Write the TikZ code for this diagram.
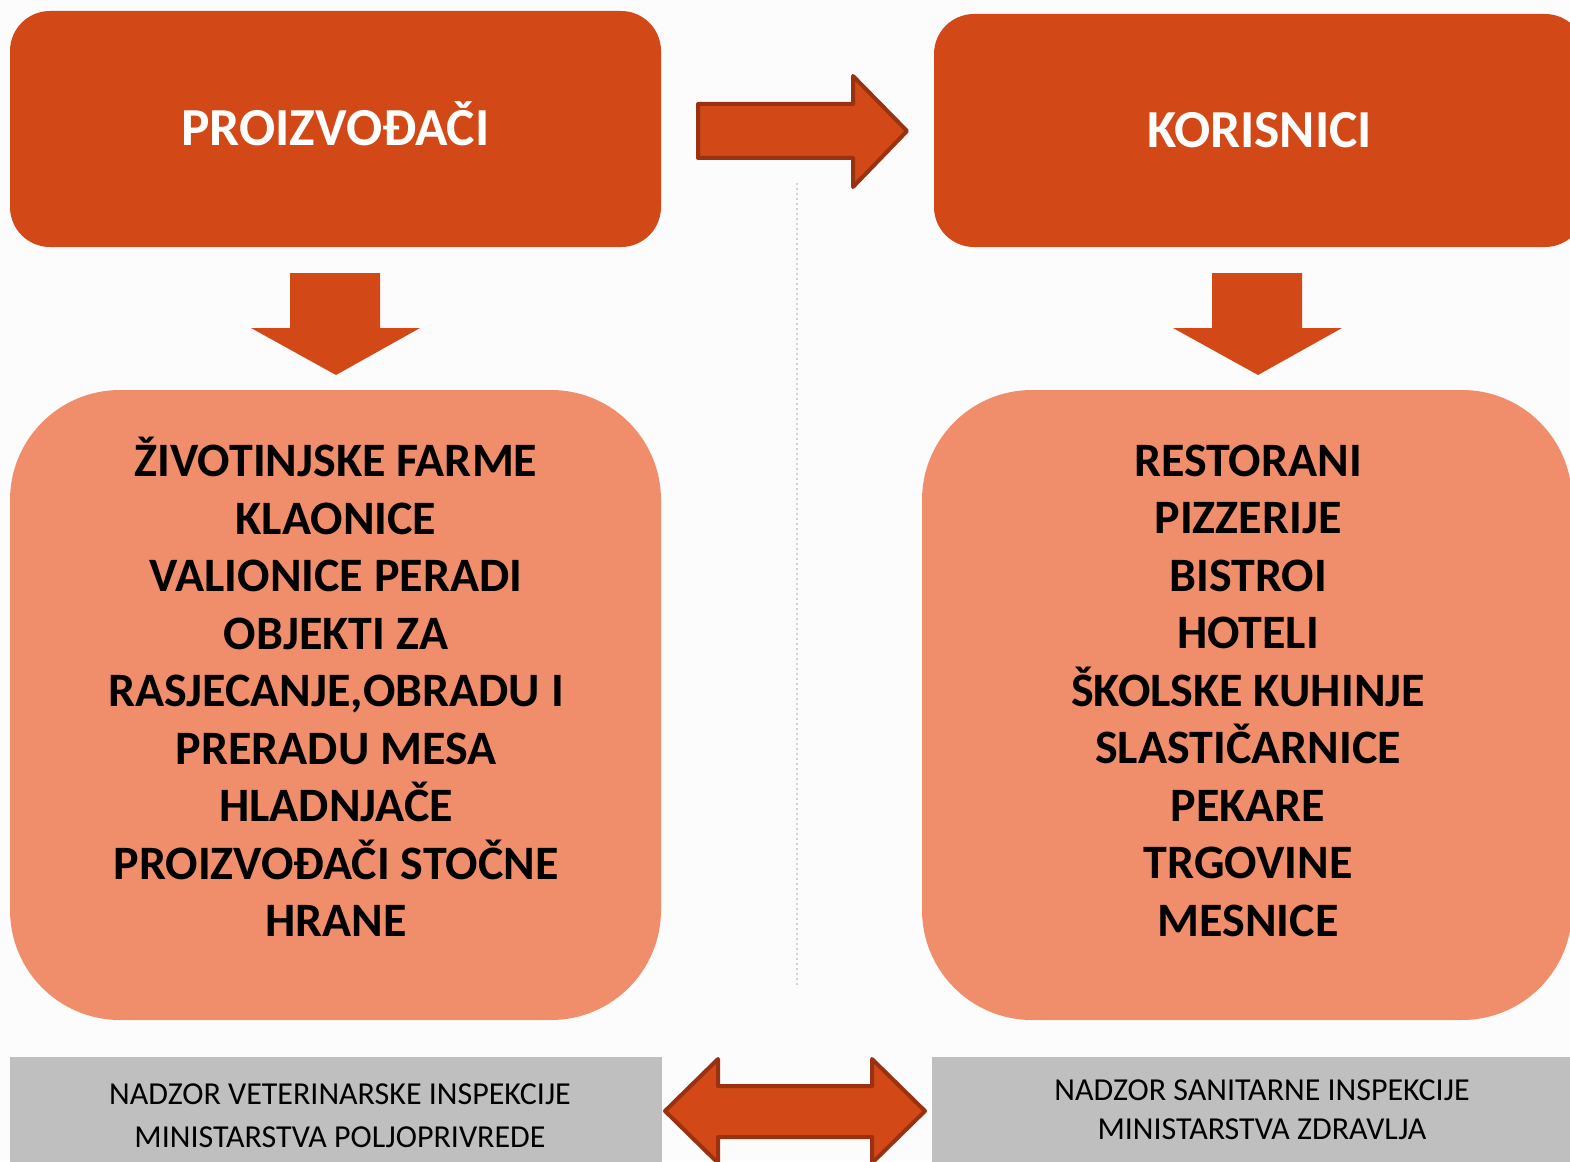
\documentclass[tikz,border=0pt]{standalone}
\usepackage{fontspec}
\setmainfont{Carlito}
\usepackage{xcolor}
\usepackage{tikz}
\usetikzlibrary{
    positioning
}
\definecolor{narancasta}{HTML}{D24817}
\definecolor{losos}{HTML}{F08E6C}
\definecolor{rub}{HTML}{9A3111}
\definecolor{siva}{HTML}{BFBFBF}
\definecolor{pozadina}{HTML}{FCFCFC}
\tikzstyle{naslov} = [
    fill=narancasta,
    rounded corners=40pt,
    minimum width=651pt,
    minimum height=236pt,
    text=white,
    text height=34pt,
    text depth=0pt,
    font=\fontsize{53.5}{60}\selectfont\bfseries
]
\tikzstyle{popis} = [
    fill=losos,
    rounded corners=110pt,
    minimum width=651pt,
    minimum height=630pt
]
\tikzstyle{stavke} = [
    align=center,
    font=\fontsize{48}{57.5}\selectfont\bfseries
]
\tikzstyle{nadzor} = [
    fill=siva,
    minimum width=652pt,
    minimum height=110pt
]
\tikzstyle{nadzortekst} = [
    align=center,
    font=\fontsize{32}{43}\selectfont
]
\tikzstyle{strelica} = [
    fill=narancasta,
    draw=rub,
    line width=4pt,
    line join=round
]

\begin{document}
\begin{tikzpicture}[x=1pt, y=-1pt]
% Pozadina i okvir
\useasboundingbox (0,0) rectangle (1570,1161);
\clip (0,0) rectangle (1570,1161);
\fill[pozadina] (0,0) rectangle (1570,1161);

% Isprekidana linija u sredini
\draw[gray!35, line width=1.5pt, dash pattern=on 2pt off 3pt] (797,183) -- (797,988);

% Naslovi
\node[naslov] (proizv) at (335.5,129) {PROIZVOĐAČI};
\node[naslov, minimum height=233pt] (korisn) at (1259.5,130.5) {KORISNICI};

% Strelica izmedju naslova
\draw[strelica] (698,104) -- (853,104) -- (853,76) -- (907,131)
    -- (853,187) -- (853,158) -- (698,158) -- cycle;

% Strelice prema dolje
\foreach \dx in {0,922} {
    \fill[narancasta, xshift=\dx]
        (290,273) -- (380,273) -- (380,328) -- (420,328)
        -- (336,375) -- (251,328) -- (290,328) -- cycle;
}

% Popisi objekata
\node[popis] (proizvbox) at (335.5,705) {};
\node[popis, minimum width=650pt] (korisnbox) at (1247,705) {};

\node[stavke] (proizvlist) at (336,687) {%
    ŽIVOTINJSKE FARME\\
    KLAONICE\\
    VALIONICE PERADI\\
    OBJEKTI ZA\\
    RASJECANJE,OBRADU I\\
    PRERADU MESA\\
    HLADNJAČE\\
    PROIZVOĐAČI STOČNE\\
    HRANE};
\node[stavke] (korisnlist) at (1248,690.5) {%
    RESTORANI\\
    PIZZERIJE\\
    BISTROI\\
    HOTELI\\
    ŠKOLSKE KUHINJE\\
    SLASTIČARNICE\\
    PEKARE\\
    TRGOVINE\\
    MESNICE};

% Nadzor
\node[nadzor] (vet) at (336,1112) {};
\node[nadzor] (san) at (1258,1112) {};
\node[nadzortekst] (vettekst) at (340,1116) {%
    NADZOR VETERINARSKE INSPEKCIJE\\
    MINISTARSTVA POLJOPRIVREDE};
\node[nadzortekst, font=\fontsize{32}{39}\selectfont] (santekst) at (1262,1110) {%
    NADZOR SANITARNE INSPEKCIJE\\
    MINISTARSTVA ZDRAVLJA};

% Dvostruka strelica
\draw[strelica] (665,1111) -- (718,1059) -- (718,1086) -- (872,1086)
    -- (872,1059) -- (925,1111) -- (872,1163) -- (872,1137)
    -- (718,1137) -- (718,1163) -- cycle;
\end{tikzpicture}
\end{document}
